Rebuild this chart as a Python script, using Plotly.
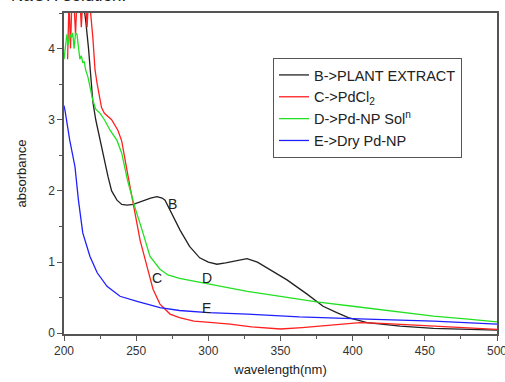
import plotly.graph_objects as go

# ---- data ----
b_x = [213, 215, 217, 219, 220, 222, 225, 228, 230.5, 233, 236.7, 240, 243.7, 248, 254.7, 260, 264.4, 268, 270,
       273.5, 277, 280.4, 287, 294, 300, 306, 312, 317, 326.8, 334, 340.7, 354.5, 368.4, 379.5, 389, 397, 410,
       433, 456, 480, 500]
b_y = [4.7, 4.4, 4.0, 3.5, 3.25, 3.0, 2.71, 2.45, 2.2, 2.0, 1.87, 1.81, 1.80, 1.81, 1.86, 1.9, 1.92, 1.9, 1.87,
       1.73, 1.58, 1.45, 1.22, 1.06, 1.0, 0.97, 0.99, 1.01, 1.05, 1.0, 0.92, 0.75, 0.55, 0.38, 0.29, 0.22, 0.15,
       0.1, 0.07, 0.055, 0.045]

c_x = [202.5, 203.5, 204.5, 205.5, 207, 208, 209, 211, 212, 213, 215, 216, 217, 218, 220, 221.5, 223, 226, 228,
       233, 237.4, 240, 244, 248, 252.7, 257.5, 261.7, 266.5, 273.5, 280, 290, 303, 315, 330, 350, 365, 380, 395,
       405, 420, 440, 460, 480, 500]
c_y = [3.85, 4.7, 4.0, 4.7, 4.6, 4.2, 4.7, 4.7, 4.3, 4.7, 4.7, 4.3, 4.7, 4.6, 4.15, 3.7, 3.5, 3.17, 3.09,
       3.0, 2.85, 2.7, 2.25, 1.83, 1.31, 0.94, 0.62, 0.41, 0.27, 0.22, 0.17, 0.15, 0.13, 0.09, 0.06, 0.08, 0.11, 0.14,
       0.15, 0.14, 0.12, 0.1, 0.08, 0.055]

d_x = [200, 201, 202, 203, 204, 205, 206, 207, 208, 209, 210, 211, 212, 213, 214, 215, 216.6, 218, 220, 222, 225,
       228, 232, 236.7, 240, 244, 249, 254.7, 259.6, 266.5, 272, 280, 290, 300, 315, 327, 350, 375, 400, 425, 456,
       480, 500]
d_y = [3.85, 4.0, 4.2, 4.05, 4.2, 4.15, 4.22, 4.0, 4.22, 4.2, 4.0, 3.85, 3.9, 3.8, 3.82, 3.7, 3.6, 3.45, 3.27,
       3.15, 3.09, 3.0, 2.85, 2.71, 2.53, 2.15, 1.78, 1.41, 1.08, 0.9, 0.82, 0.77, 0.73, 0.7, 0.63, 0.59, 0.52, 0.44,
       0.38, 0.32, 0.24, 0.2, 0.16]

e_x = [200, 200.7, 204, 207.6, 210, 213, 218, 223, 229.8, 238.8, 250.6, 266.5, 280, 300, 327, 363, 410, 456, 500]
e_y = [3.2, 3.13, 2.71, 2.34, 1.87, 1.41, 1.08, 0.85, 0.66, 0.52, 0.45, 0.36, 0.32, 0.29, 0.27, 0.23, 0.2, 0.17, 0.13]

series_names = ["B->PLANT EXTRACT", "C->PdCl<sub>2</sub>", "D->Pd-NP Sol<sup>n</sup>", "E->Dry Pd-NP"]
series_colors = ["#222222", "#ff2020", "#22e022", "#2020ff"]

label_text = ["B", "C", "D", "E"]
label_x = [275.5, 264.4, 299, 298.4]
label_y = [1.82, 0.77, 0.78, 0.36]

x_ticks = [200, 250, 300, 350, 400, 450, 500]
y_ticks = [0, 1, 2, 3, 4]

FONT = "Liberation Sans, Arial, sans-serif"

fig = go.Figure()
for xs, ys, name, col in zip([b_x, c_x, d_x, e_x], [b_y, c_y, d_y, e_y], series_names, series_colors):
    fig.add_trace(go.Scatter(x=xs, y=ys, mode="lines", name=name,
                             line=dict(color=col, width=1.3)))

for t, x, y in zip(label_text, label_x, label_y):
    fig.add_annotation(x=x, y=y, text=t, showarrow=False, xanchor="center", yanchor="middle",
                       font=dict(family=FONT, size=14, color="#222222"))

# caption from the page above the chart, only its lower edge is visible
fig.add_annotation(xref="paper", yref="paper", x=-0.127, y=1.018, xanchor="left", yanchor="bottom",
                   text="NaOH solution.", showarrow=False,
                   font=dict(family=FONT, size=17, color="#222222"))

axis_common = dict(showline=True, linecolor="#555555", linewidth=1.5, mirror=True, showgrid=False,
                   zeroline=False, ticks="outside", tickcolor="#555555", ticklen=5, tickwidth=1,
                   ticklabeloverflow="allow",
                   tickfont=dict(family=FONT, size=12, color="#333333"))

fig.update_xaxes(range=[200, 500], tickvals=x_ticks,
                 minor=dict(ticks="outside", dtick=25, ticklen=3, tickcolor="#555555", showgrid=False),
                 title=dict(text="wavelength(nm)", font=dict(family=FONT, size=13, color="#222222"), standoff=8),
                 **axis_common)
fig.update_yaxes(range=[-0.01, 4.5], tickvals=y_ticks,
                 minor=dict(ticks="outside", dtick=0.5, ticklen=3, tickcolor="#555555", showgrid=False),
                 title=dict(text="absorbance", font=dict(family=FONT, size=13, color="#222222"), standoff=19),
                 **axis_common)

fig.update_layout(
    width=505, height=382,
    margin=dict(l=64, r=8, t=13, b=48, autoexpand=False),
    plot_bgcolor="white", paper_bgcolor="white",
    showlegend=True,
    legend=dict(x=(273 - 64) / 433, y=1 - (58 - 13) / 321, xanchor="left", yanchor="top",
                bordercolor="#555555", borderwidth=1, bgcolor="white",
                font=dict(family=FONT, size=14.5, color="#222222"),
                tracegroupgap=0, itemwidth=30),
)

# remove the browser's default 8px body margin so the figure sits at the page origin
fig.write_html("out.html", config={"displayModeBar": False},
               post_script="document.body.style.margin='0';")
